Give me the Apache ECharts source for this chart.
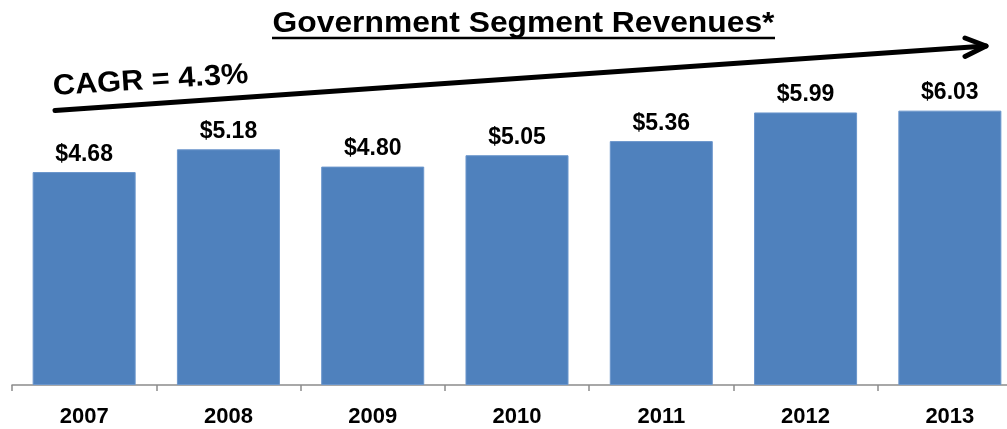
<!DOCTYPE html>
<html>
<head>
<meta charset="utf-8">
<script src="https://cdn.jsdelivr.net/npm/echarts@6/dist/echarts.min.js"></script>
<style>
  html, body { margin: 0; padding: 0; background: #fff; }
  #chart { width: 1007px; height: 429px; }
</style>
</head>
<body>
<div id="chart"></div>
<script>
// Government segment revenues by year ($ billions)
const years = ['2007', '2008', '2009', '2010', '2011', '2012', '2013'];
const revenues = [4.68, 5.18, 4.80, 5.05, 5.36, 5.99, 6.03];
const titleText = 'Government Segment Revenues*';
const cagrText = 'CAGR = 4.3%';

const FONT = '"Liberation Sans", Arial, Helvetica, sans-serif';
const chart = echarts.init(document.getElementById('chart'), null, { renderer: 'canvas' });

// Growth arrow geometry
const arrowStart = [55, 110.5];
const arrowTip = [986, 46];
const arrowAngle = Math.atan2(arrowStart[1] - arrowTip[1], arrowTip[0] - arrowStart[0]);

chart.setOption({
  animation: false,
  // the last category runs slightly past the right edge of the canvas
  grid: { left: 12, width: 1010, top: 21, bottom: 44, containLabel: false, outerBoundsMode: 'none' },
  xAxis: {
    type: 'category',
    data: years,
    axisLine: { show: true, lineStyle: { color: '#8c8c8c', width: 1.5 } },
    axisTick: { show: true, length: 6, lineStyle: { color: '#8c8c8c', width: 1.5 } },
    axisLabel: { color: '#000', fontFamily: FONT, fontWeight: 'bold', fontSize: 22, margin: 21 }
  },
  yAxis: {
    type: 'value',
    min: 0,
    max: 8,
    show: false,
    splitLine: { show: false }
  },
  series: [{
    type: 'bar',
    data: revenues,
    barCategoryGap: '28.6%',
    itemStyle: { color: '#4f81bd', borderColor: '#6b96cc', borderWidth: 1 },
    label: {
      show: true,
      position: 'top',
      distance: 6,
      color: '#000',
      fontFamily: FONT,
      fontWeight: 'bold',
      fontSize: 23,
      formatter: p => '$' + p.value.toFixed(2)
    }
  }],
  graphic: [
    {
      type: 'text',
      x: 523.5, y: 24,
      scaleX: 1.06,
      style: {
        text: titleText,
        x: 0, y: 0,
        align: 'center',
        verticalAlign: 'middle',
        font: 'bold 30px ' + FONT,
        fill: '#000'
      }
    },
    {
      type: 'line',
      shape: { x1: 272, y1: 38, x2: 775, y2: 38 },
      style: { stroke: '#000', lineWidth: 2.5 }
    },
    {
      type: 'text',
      x: 53, y: 87,
      rotation: arrowAngle * 0.9,
      scaleX: 1.06,
      style: {
        text: cagrText,
        x: 0, y: 0,
        align: 'left',
        verticalAlign: 'middle',
        font: 'bold 29px ' + FONT,
        fill: '#000'
      }
    },
    {
      type: 'polyline',
      shape: { points: [arrowStart, arrowTip] },
      style: { stroke: '#000', lineWidth: 5, lineCap: 'round' }
    },
    {
      type: 'polyline',
      shape: { points: [[965, 38], arrowTip, [965, 56.5]] },
      style: { stroke: '#000', lineWidth: 5, lineCap: 'round', lineJoin: 'round', fill: null }
    }
  ]
});
</script>
</body>
</html>
